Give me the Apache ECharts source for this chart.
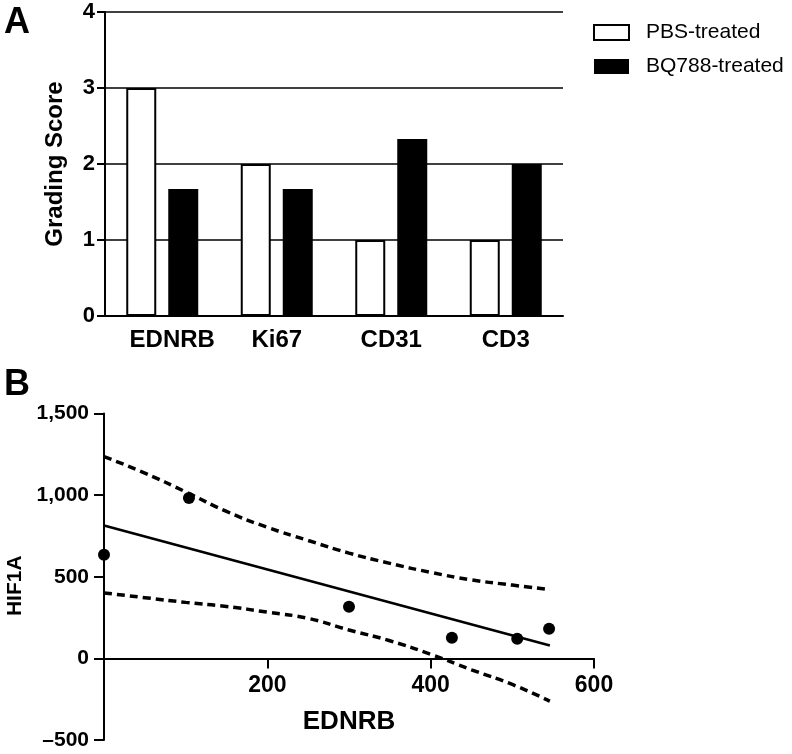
<!DOCTYPE html>
<html>
<head>
    <meta charset="utf-8">
    <title>Grading score and HIF1A vs EDNRB</title>
    <script src="https://cdn.jsdelivr.net/npm/echarts@6/dist/echarts.min.js"></script>
    <style>
        html, body { margin: 0; padding: 0; background: #fff; }
    </style>
</head>
<body>
<div id="main" style="width: 792px;height:754px;"></div>
<script>
    // panel A
    var markers = ['EDNRB', 'Ki67', 'CD31', 'CD3'];
    var pbsScore = [3, 2, 1, 1];
    var bqScore = [1.67, 1.67, 2.33, 2];

    // panel B: points, fitted line and dashed 95% bands
    var points = [[0, 635], [104, 982], [300, 316], [426, 126], [506, 120], [545, 181]];
    var fitLine = [[0, 814], [546, 79]];
    var upperBand = [[0, 1236], [50, 1135], [100, 1020], [150, 900], [200, 803], [250, 722],
        [300, 645], [350, 582], [400, 527], [450, 481], [500, 449], [546, 422]];
    var lowerBand = [[0, 401], [50, 372], [100, 343], [150, 318], [200, 283], [250, 245],
        [300, 174], [350, 108], [400, 25], [450, -70], [500, -160], [546, -262]];

    var FONT = 'Liberation Sans, Arial, Helvetica, sans-serif';

    // grid B geometry; the x axis sits on y = 0
    var bTop = 413.5, bHeight = 326.5;
    var yMinB = -500, yMaxB = 1500;
    var zeroOffset = -bHeight * (0 - yMinB) / (yMaxB - yMinB);

    var myChart = echarts.init(document.getElementById('main'));

    var option = {
        backgroundColor: '#fff',
        animation: false,
        textStyle: { fontFamily: FONT, color: '#000' },
        graphic: [
            { type: 'text', left: 4, top: 5, style: { text: 'A', font: 'bold 36px ' + FONT, fill: '#000' } },
            { type: 'text', left: 4, top: 367, style: { text: 'B', font: 'bold 36px ' + FONT, fill: '#000' } }
        ],
        legend: {
            orient: 'vertical',
            left: 593,
            top: 22,
            itemWidth: 35,
            itemHeight: 15,
            itemGap: 13,
            icon: 'rect',
            padding: 0,
            textStyle: { fontSize: 21, fontFamily: FONT, color: '#000', padding: [0, 0, 0, 12] },
            data: [
                { name: 'PBS-treated', itemStyle: { color: '#fff', borderColor: '#000', borderWidth: 2 } },
                { name: 'BQ788-treated', itemStyle: { color: '#000', borderColor: '#000', borderWidth: 0 } }
            ]
        },
        grid: [
            { left: 105, top: 12, width: 458, height: 304, containLabel: false, outerBoundsMode: 'none' },
            { left: 104, top: bTop, width: 490, height: bHeight, containLabel: false, outerBoundsMode: 'none' }
        ],
        xAxis: [
            {
                type: 'category',
                gridIndex: 0,
                data: markers,
                axisLine: { lineStyle: { color: '#000', width: 2 } },
                axisTick: { alignWithLabel: true, interval: 0, length: 10, lineStyle: { color: '#000', width: 2 } },
                axisLabel: {
                    interval: 0,
                    hideOverlap: false,
                    color: '#000', fontWeight: 'bold', fontSize: 24, margin: 12,
                    formatter: function (v, i) { return i === 0 ? '{s|' + v + '}' : v; },
                    rich: { s: { fontWeight: 'bold', fontSize: 24, color: '#000', padding: [0, 0, 0, 20] } }
                }
            },
            {
                type: 'value',
                gridIndex: 1,
                min: 0,
                max: 600,
                interval: 200,
                position: 'bottom',
                offset: zeroOffset,
                name: 'EDNRB',
                nameLocation: 'middle',
                nameGap: 50,
                nameTextStyle: { color: '#000', fontWeight: 'bold', fontSize: 26 },
                splitLine: { show: false },
                axisLine: { onZero: false, lineStyle: { color: '#000', width: 2 } },
                axisTick: { length: 10, lineStyle: { color: '#000', width: 2 } },
                axisLabel: {
                    color: '#000', fontWeight: 'bold', fontSize: 23, margin: 16,
                    formatter: function (v) { return v === 0 ? '' : String(v); }
                }
            }
        ],
        yAxis: [
            {
                type: 'value',
                gridIndex: 0,
                min: 0,
                max: 4,
                interval: 1,
                name: 'Grading Score',
                nameLocation: 'middle',
                nameGap: 38,
                nameTextStyle: { color: '#000', fontWeight: 'bold', fontSize: 24 },
                axisLine: { show: true, lineStyle: { color: '#000', width: 2 } },
                axisTick: { show: true, length: 8, lineStyle: { color: '#000', width: 2 } },
                axisLabel: { color: '#000', fontWeight: 'bold', fontSize: 22, margin: 10 },
                splitLine: { show: true, lineStyle: { color: '#000', width: 1.5 } }
            },
            {
                type: 'value',
                gridIndex: 1,
                min: yMinB,
                max: yMaxB,
                interval: 500,
                name: 'HIF1A',
                nameLocation: 'middle',
                nameGap: 76,
                nameTextStyle: { color: '#000', fontWeight: 'bold', fontSize: 21, padding: [0, 18, 0, 0] },
                splitLine: { show: false },
                axisLine: { show: true, onZero: false, lineStyle: { color: '#000', width: 2 } },
                axisTick: { show: true, length: 10, lineStyle: { color: '#000', width: 2 } },
                axisLabel: {
                    color: '#000', fontWeight: 'bold', fontSize: 21, margin: 15,
                    formatter: function (v) {
                        var s = Math.abs(v).toLocaleString('en-US');
                        return v < 0 ? '\u2013' + s : s;
                    }
                }
            }
        ],
        series: [
            {
                name: 'PBS-treated',
                type: 'bar',
                xAxisIndex: 0,
                yAxisIndex: 0,
                barWidth: 30,
                barGap: '40%',
                itemStyle: { color: '#fff', borderColor: '#000', borderWidth: 2 },
                data: pbsScore
            },
            {
                name: 'BQ788-treated',
                type: 'bar',
                xAxisIndex: 0,
                yAxisIndex: 0,
                barWidth: 30,
                barGap: '40%',
                itemStyle: { color: '#000' },
                data: bqScore
            },
            {
                name: 'upper95',
                type: 'line',
                xAxisIndex: 1,
                yAxisIndex: 1,
                smooth: true,
                showSymbol: false,
                lineStyle: { color: '#000', width: 3.5, type: [8, 5] },
                data: upperBand
            },
            {
                name: 'lower95',
                type: 'line',
                xAxisIndex: 1,
                yAxisIndex: 1,
                smooth: true,
                showSymbol: false,
                lineStyle: { color: '#000', width: 3.5, type: [8, 5] },
                data: lowerBand
            },
            {
                name: 'fit',
                type: 'line',
                xAxisIndex: 1,
                yAxisIndex: 1,
                showSymbol: false,
                lineStyle: { color: '#000', width: 2.5 },
                data: fitLine
            },
            {
                name: 'samples',
                type: 'scatter',
                xAxisIndex: 1,
                yAxisIndex: 1,
                symbolSize: 12,
                itemStyle: { color: '#000', opacity: 1 },
                data: points
            }
        ]
    };

    myChart.setOption(option);
</script>
</body>
</html>
